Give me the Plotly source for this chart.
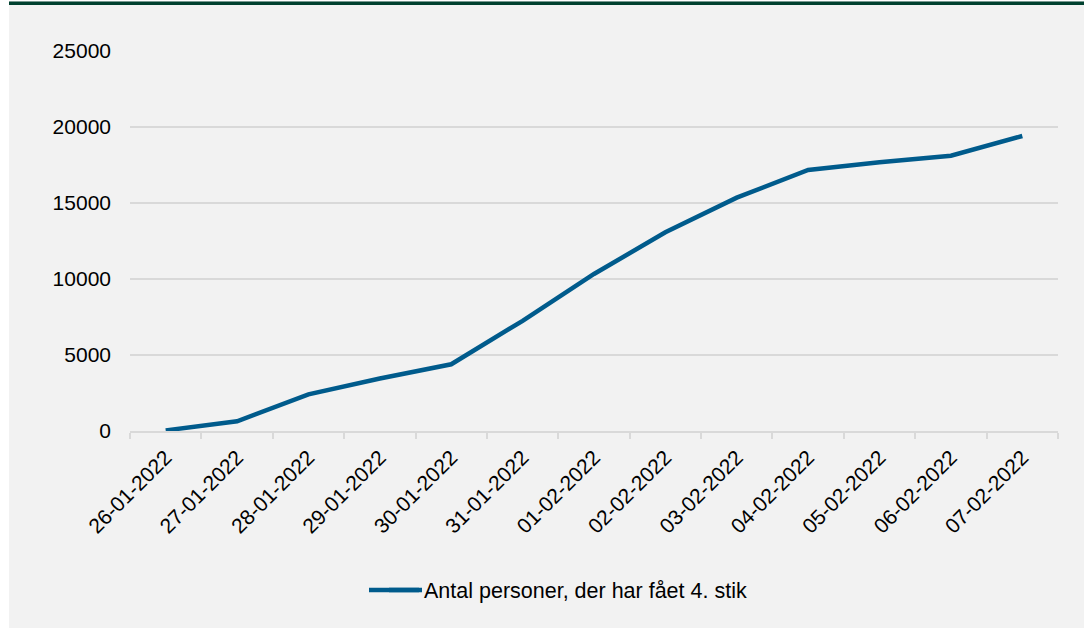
import plotly.graph_objects as go

DATES = [
    "26-01-2022", "27-01-2022", "28-01-2022", "29-01-2022", "30-01-2022",
    "31-01-2022", "01-02-2022", "02-02-2022", "03-02-2022", "04-02-2022",
    "05-02-2022", "06-02-2022", "07-02-2022",
]
FOURTH_DOSE = [
    40, 640, 2410, 3450, 4390, 7250, 10330, 13070, 15350, 17170,
    17680, 18110, 19410,
]
SERIES_NAME = "Antal personer, der har fået 4. stik"
Y_TICKS = [0, 5000, 10000, 15000, 20000, 25000]

W, H = 1084, 629
L, R, T, B = 130, 26, 51, 198
PW, PH = W - L - R, H - T - B

LINE = "#005b8c"
GRID = "#d9d9d9"
BG = "#f2f2f2"
FONT = "Liberation Sans, Arial, sans-serif"


def px_x(px):
    return (px - L) / PW


def px_y(py):
    return (H - B - py) / PH


fig = go.Figure()
fig.add_trace(go.Scatter(
    x=DATES, y=FOURTH_DOSE, name=SERIES_NAME, mode="lines",
    line=dict(color=LINE, width=4.5),
))

# grey panel with white strips left/bottom, dark green rule on top
fig.add_shape(type="rect", xref="paper", yref="paper", layer="below",
              x0=px_x(9), x1=px_x(W + 5), y0=px_y(628), y1=px_y(1),
              fillcolor=BG, line_width=0)
fig.add_shape(type="rect", xref="paper", yref="paper", layer="below",
              x0=px_x(9), x1=px_x(W + 5), y0=px_y(5), y1=px_y(1.5),
              fillcolor="#00412f", line_width=0)
# longer legend swatch, like the original
fig.add_shape(type="line", xref="paper", yref="paper", layer="below",
              x0=px_x(369), x1=px_x(422), y0=px_y(590), y1=px_y(590),
              line=dict(color=LINE, width=4.5))

fig.update_layout(
    width=W, height=H,
    margin=dict(l=L, r=R, t=T, b=B),
    paper_bgcolor="white",
    plot_bgcolor="rgba(0,0,0,0)",
    font=dict(family=FONT, size=21, color="#000000"),
    showlegend=True,
    legend=dict(
        orientation="h", x=px_x(568), xanchor="center",
        y=px_y(590), yanchor="middle",
        bgcolor="rgba(0,0,0,0)", font=dict(size=21.5),
    ),
)
fig.update_xaxes(
    type="category", range=[-0.5, len(DATES) - 0.5],
    tickangle=-45, tickson="boundaries",
    ticks="outside", ticklen=6, tickcolor=GRID, tickwidth=1.5,
    showgrid=False, showline=True, linecolor=GRID, linewidth=1.5,
    zeroline=False, ticklabelstandoff=4,
)
fig.update_yaxes(
    range=[0, 25000], tickvals=Y_TICKS, tickformat="d", showgrid=True,
    gridcolor=GRID, gridwidth=1.5, zeroline=False, showline=False,
    ticks="", ticklabelstandoff=18,
)

fig.write_html("out.html", config={"displayModeBar": False},
               post_script="document.body.style.margin='0';")
